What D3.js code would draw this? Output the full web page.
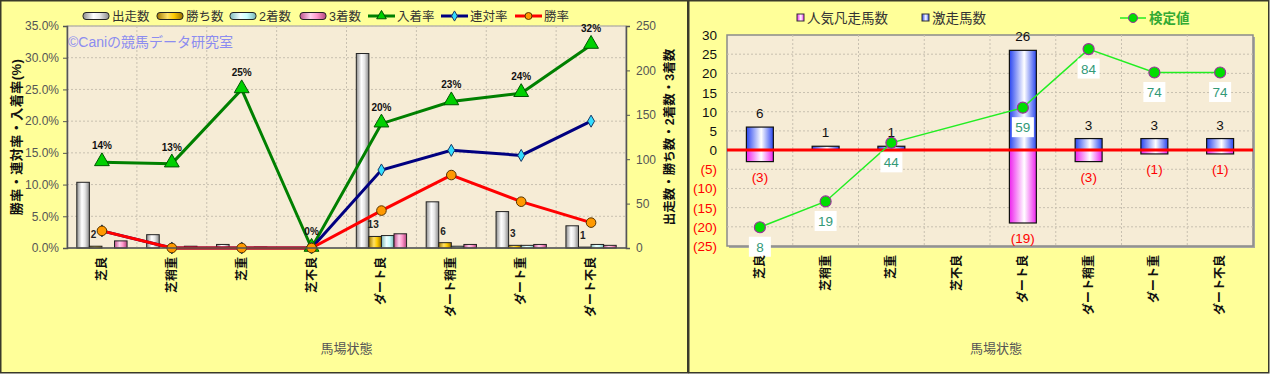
<!DOCTYPE html>
<html>
<head>
<meta charset="utf-8">
<script src="https://cdn.jsdelivr.net/npm/d3@7"></script>
<style>
  body { margin: 0; background: #ffffff; }
  svg { display: block; font-family: "Liberation Sans", "Noto Sans CJK JP", sans-serif; }
</style>
</head>
<body>
<svg id="chart" width="1270" height="374"></svg>
<script>
// Data =====================================================

var categories = ["芝良", "芝稍重", "芝重", "芝不良", "ダート良", "ダート稍重", "ダート重", "ダート不良"];

// left chart: counts (right axis)
var starts  = [74, 15, 4, 0, 219, 52, 41, 25];
var wins    = [2, 0, 0, 0, 13, 6, 3, 1];
var seconds = [0, 0, 0, 0, 14, 2, 3, 4];
var thirds  = [8, 2, 1, 0, 16, 4, 4, 3];

// left chart: rates in % (left axis)
var placeRate = [13.5, 13.3, 25.0, 0, 19.6, 23.1, 24.4, 32.0];
var quinRate  = [2.7, 0, 0, 0, 12.3, 15.4, 14.6, 20.0];
var winRate   = [2.7, 0, 0, 0, 5.9, 11.5, 7.3, 4.0];

var leftTicks  = [0, 5, 10, 15, 20, 25, 30, 35];
var rightTicks = [0, 50, 100, 150, 200, 250];

// right chart
var gekisou  = [6, 1, 1, 0, 26, 3, 3, 3];        // 激走馬数
var ninkiBon = [3, 0, 0, 0, 19, 3, 1, 1];        // 人気凡走馬数 (drawn downward)
var kentei   = [8, 19, 44, null, 59, 84, 74, 74]; // 検定値
var countTicks = [-25, -20, -15, -10, -5, 0, 5, 10, 15, 20, 25, 30];

// Setup ====================================================

var svg = d3.select("#chart");
var defs = svg.append("defs");

// keep the category index with each value so filtering doesn't shift it
function withIdx(arr) {
  return arr.map(function(v, i) { return {i: i, v: v}; });
}

function hGrad(id, stops) {
  var g = defs.append("linearGradient").attr("id", id)
    .attr("x1", "0%").attr("x2", "100%").attr("y1", "0%").attr("y2", "0%");
  stops.forEach(function(s) {
    g.append("stop").attr("offset", s[0]).attr("stop-color", s[1]);
  });
}
hGrad("gStart",  [["0%", "#8c8c8c"], ["40%", "#ffffff"], ["65%", "#e6e6e6"], ["100%", "#8a8a8a"]]);
hGrad("gWin",    [["0%", "#a07800"], ["40%", "#ffe066"], ["65%", "#ffcc00"], ["100%", "#996f00"]]);
hGrad("gSecond", [["0%", "#7fbcbc"], ["40%", "#f0ffff"], ["65%", "#ccffff"], ["100%", "#79b5b5"]]);
hGrad("gThird",  [["0%", "#c0508c"], ["40%", "#ffd0ec"], ["65%", "#ff99cc"], ["100%", "#b5457f"]]);
hGrad("gBlue",   [["0%", "#2a46f0"], ["55%", "#ffffff"], ["100%", "#2a46f0"]]);
hGrad("gPink",   [["0%", "#ee22ee"], ["55%", "#ffffff"], ["100%", "#ee22ee"]]);

var bgPanel = "#ffff99";
var bgPlot = "#f6ecd6";
var gridCol = "#c8c0b0";

// panels
svg.append("rect").attr("x", 0.75).attr("y", 0.75).attr("width", 687).attr("height", 372)
  .attr("fill", bgPanel).attr("stroke", "#3a3a2a").attr("stroke-width", 1.5);
svg.append("rect").attr("x", 688.75).attr("y", 0.75).attr("width", 1268.5 - 688.5).attr("height", 372)
  .attr("fill", bgPanel).attr("stroke", "#3a3a2a").attr("stroke-width", 1.5);

// Left chart ===============================================

var L = {left: 67, right: 626, top: 26, bottom: 248};
var barKeys = ["出走数", "勝ち数", "2着数", "3着数"];
var barData = [starts, wins, seconds, thirds];
var barFill = ["url(#gStart)", "url(#gWin)", "url(#gSecond)", "url(#gThird)"];

var xL = d3.scaleBand().domain(categories).range([L.left, L.right]);
var xLIn = d3.scaleBand().domain(barKeys).range([0, xL.bandwidth()]).paddingOuter(0.78);
var yRate = d3.scaleLinear().domain([0, 35]).range([L.bottom, L.top]);
var yCnt = d3.scaleLinear().domain([0, 250]).range([L.bottom, L.top]);
function cx(i) { return xL(categories[i]) + xL.bandwidth() / 2; }

var gl = svg.append("g");
gl.append("rect").attr("x", L.left).attr("y", L.top)
  .attr("width", L.right - L.left).attr("height", L.bottom - L.top)
  .attr("fill", bgPlot).attr("stroke", "#9a9a9a");

// grid
gl.selectAll(".hg").data(leftTicks.slice(1)).enter().append("line")
  .attr("x1", L.left).attr("x2", L.right)
  .attr("y1", function(d) { return yRate(d); }).attr("y2", function(d) { return yRate(d); })
  .attr("stroke", gridCol).attr("stroke-dasharray", "2,2");
gl.selectAll(".vg").data(categories.slice(1)).enter().append("line")
  .attr("x1", function(d) { return xL(d); }).attr("x2", function(d) { return xL(d); })
  .attr("y1", L.top).attr("y2", L.bottom)
  .attr("stroke", gridCol).attr("stroke-dasharray", "2,2");

// watermark
gl.append("text").attr("x", L.left + 1).attr("y", 47)
  .attr("fill", "#8c8cf0").attr("font-size", 14).text("©Caniの競馬データ研究室");

// bars
barData.forEach(function(arr, k) {
  gl.selectAll(".b" + k).data(withIdx(arr).filter(function(d) { return d.v > 0; }))
    .enter().append("rect")
    .attr("x", function(d) { return xL(categories[d.i]) + xLIn(barKeys[k]); })
    .attr("y", function(d) { return yCnt(d.v); })
    .attr("width", xLIn.bandwidth())
    .attr("height", function(d) { return L.bottom - yCnt(d.v); })
    .attr("fill", barFill[k])
    .attr("stroke", "#222")
    .attr("stroke-width", 1);
});

// win count labels
gl.selectAll(".wl").data(withIdx(wins).filter(function(d) { return d.v > 0; }))
  .enter().append("text")
  .attr("x", function(d) { return xL(categories[d.i]) + xLIn("勝ち数") + xLIn.bandwidth() / 2 - 2; })
  .attr("y", function(d) { return yCnt(d.v) - 8; })
  .attr("text-anchor", "middle").attr("font-size", 10).attr("font-weight", "bold")
  .attr("fill", "#222").text(function(d) { return d.v; });

// lines
var lineL = d3.line().x(function(d, i) { return cx(i); }).y(function(d) { return yRate(d); });

gl.append("path").datum(placeRate).attr("d", lineL)
  .attr("fill", "none").attr("stroke", "#008000").attr("stroke-width", 3);
gl.append("path").datum(quinRate).attr("d", lineL)
  .attr("fill", "none").attr("stroke", "#000080").attr("stroke-width", 3);
gl.append("path").datum(winRate).attr("d", lineL)
  .attr("fill", "none").attr("stroke", "#ff0000").attr("stroke-width", 3);

var tri = d3.symbol().type(d3.symbolTriangle).size(95);
var dia = d3.symbol().type(d3.symbolDiamond).size(42);

gl.selectAll(".pm").data(placeRate).enter().append("path")
  .attr("d", tri)
  .attr("transform", function(d, i) { return "translate(" + cx(i) + "," + (yRate(d) - 1) + ")"; })
  .attr("fill", "#00d000").attr("stroke", "#005500").attr("stroke-width", 1);
gl.selectAll(".qm").data(quinRate).enter().append("path")
  .attr("d", dia)
  .attr("transform", function(d, i) { return "translate(" + cx(i) + "," + yRate(d) + ")"; })
  .attr("fill", "#33ddff").attr("stroke", "#1a3a66").attr("stroke-width", 1);
gl.selectAll(".wm").data(winRate).enter().append("circle")
  .attr("cx", function(d, i) { return cx(i); })
  .attr("cy", function(d) { return yRate(d); })
  .attr("r", 4.8)
  .attr("fill", "#ff9900").attr("stroke", "#553300").attr("stroke-width", 1);

// place rate labels
gl.selectAll(".pl").data(placeRate).enter().append("text")
  .attr("x", function(d, i) { return cx(i); })
  .attr("y", function(d) { return yRate(d) - 13; })
  .attr("text-anchor", "middle").attr("font-size", 10).attr("font-weight", "bold")
  .attr("fill", "#111").text(function(d) { return Math.round(d) + "%"; });

// axes
var axL = gl.append("g").attr("transform", "translate(" + L.left + ",0)")
  .call(d3.axisLeft(yRate).tickValues(leftTicks).tickSize(4).tickPadding(4)
    .tickFormat(function(d) { return d.toFixed(1) + "%"; }));
var axR = gl.append("g").attr("transform", "translate(" + L.right + ",0)")
  .call(d3.axisRight(yCnt).tickValues(rightTicks).tickSize(4).tickPadding(6));
[axL, axR].forEach(function(a) {
  a.select(".domain").attr("stroke", "#555").attr("stroke-width", 1.5);
  a.selectAll(".tick line").attr("stroke", "#555");
  a.selectAll("text").attr("font-size", 12).attr("fill", "#555");
});
gl.append("line").attr("x1", L.left).attr("x2", L.right).attr("y1", L.bottom).attr("y2", L.bottom)
  .attr("stroke", "#555").attr("stroke-width", 1.5);

// category labels
gl.selectAll(".xl").data(categories).enter().append("text")
  .attr("transform", function(d, i) { return "translate(" + (cx(i) + 4) + "," + (L.bottom + 9) + ") rotate(-90)"; })
  .attr("text-anchor", "end").attr("font-size", 12).attr("font-weight", "bold")
  .attr("fill", "#111").text(function(d) { return d; });

// axis titles
gl.append("text").attr("transform", "translate(21,137) rotate(-90)")
  .attr("text-anchor", "middle").attr("font-size", 13).attr("font-weight", "bold")
  .attr("letter-spacing", 0.5)
  .attr("fill", "#111").text("勝率・連対率・入着率(%)");
gl.append("text").attr("transform", "translate(674,137) rotate(-90)")
  .attr("text-anchor", "middle").attr("font-size", 12.5).attr("font-weight", "bold")
  .attr("fill", "#111").text("出走数・勝ち数・2着数・3着数");
gl.append("text").attr("x", (L.left + L.right) / 2).attr("y", 353)
  .attr("text-anchor", "middle").attr("font-size", 13).attr("fill", "#555").text("馬場状態");

// legend
var legL = gl.append("g").attr("font-size", 12.5).attr("fill", "#333");
var legItems = [
  {name: "出走数", x: 83, type: "bar", fill: "url(#gStart)"},
  {name: "勝ち数", x: 157, type: "bar", fill: "url(#gWin)"},
  {name: "2着数", x: 230, type: "bar", fill: "url(#gSecond)"},
  {name: "3着数", x: 300, type: "bar", fill: "url(#gThird)"},
  {name: "入着率", x: 368, type: "tri", col: "#008000"},
  {name: "連対率", x: 441, type: "dia", col: "#000080"},
  {name: "勝率", x: 515, type: "dot", col: "#ff0000"}
];
legItems.forEach(function(it) {
  var g = legL.append("g").attr("transform", "translate(" + it.x + ",16)");
  if (it.type == "bar") {
    g.append("rect").attr("x", 0).attr("y", -3.5).attr("width", 26).attr("height", 7)
      .attr("rx", 3).attr("fill", it.fill).attr("stroke", "#222");
  } else {
    g.append("line").attr("x1", 0).attr("x2", 27).attr("stroke", it.col).attr("stroke-width", 3);
    if (it.type == "tri")
      g.append("path").attr("d", d3.symbol().type(d3.symbolTriangle).size(40))
        .attr("transform", "translate(13.5,0)").attr("fill", "#00d000").attr("stroke", "#005500");
    else if (it.type == "dia")
      g.append("path").attr("d", d3.symbol().type(d3.symbolDiamond).size(30))
        .attr("transform", "translate(13.5,0)").attr("fill", "#33ddff").attr("stroke", "#1a3a66");
    else
      g.append("circle").attr("cx", 13.5).attr("r", 3.5).attr("fill", "#ff9900").attr("stroke", "#553300");
  }
  g.append("text").attr("x", 29).attr("y", 4.5).text(it.name);
});

// Right chart ==============================================

var R = {left: 727, right: 1253, top: 35, bottom: 246};
var xR = d3.scaleBand().domain(categories).range([R.left, R.right]);
var yC = d3.scaleLinear().domain([-25, 30]).range([R.bottom, R.top]);
var yK = d3.scaleLinear().domain([0, 90]).range([R.bottom, R.top]);
var bw = xR.bandwidth() * 0.41;
function rx(i) { return xR(categories[i]) + xR.bandwidth() / 2; }

var gr = svg.append("g");
gr.append("rect").attr("x", R.left + 2).attr("y", R.top + 2)
  .attr("width", R.right - R.left).attr("height", R.bottom - R.top).attr("fill", "#a8a8a0");
gr.append("rect").attr("x", R.left).attr("y", R.top)
  .attr("width", R.right - R.left).attr("height", R.bottom - R.top)
  .attr("fill", bgPlot).attr("stroke", "#8a8a8a").attr("stroke-width", 1.5);

gr.selectAll(".hg").data(countTicks.slice(1, -1)).enter().append("line")
  .attr("x1", R.left).attr("x2", R.right)
  .attr("y1", function(d) { return yC(d); }).attr("y2", function(d) { return yC(d); })
  .attr("stroke", gridCol).attr("stroke-dasharray", "2,2");
gr.selectAll(".vg").data(categories.slice(1)).enter().append("line")
  .attr("x1", function(d) { return xR(d); }).attr("x2", function(d) { return xR(d); })
  .attr("y1", R.top).attr("y2", R.bottom)
  .attr("stroke", gridCol).attr("stroke-dasharray", "2,2");

// y labels
gr.selectAll(".yl").data(countTicks).enter().append("text")
  .attr("x", 717).attr("y", function(d) { return yC(d) + 5; })
  .attr("text-anchor", "end").attr("font-size", 13.5)
  .attr("fill", function(d) { return d < 0 ? "#ff0000" : "#111"; })
  .text(function(d) { return d < 0 ? "(" + (-d) + ")" : d; });

// bars
var blueData = withIdx(gekisou).filter(function(d) { return d.v > 0; });
var pinkData = withIdx(ninkiBon).filter(function(d) { return d.v > 0; });

gr.selectAll(".bb").data(blueData).enter().append("rect")
  .attr("x", function(d) { return rx(d.i) - bw / 2; })
  .attr("y", function(d) { return yC(d.v); })
  .attr("width", bw).attr("height", function(d) { return yC(0) - yC(d.v); })
  .attr("fill", "url(#gBlue)").attr("stroke", "#111").attr("stroke-width", 1.2);
gr.selectAll(".pb").data(pinkData).enter().append("rect")
  .attr("x", function(d) { return rx(d.i) - bw / 2; })
  .attr("y", yC(0))
  .attr("width", bw).attr("height", function(d) { return yC(-d.v) - yC(0); })
  .attr("fill", "url(#gPink)").attr("stroke", "#111").attr("stroke-width", 1.2);

gr.selectAll(".bl").data(blueData).enter().append("text")
  .attr("x", function(d) { return rx(d.i); })
  .attr("y", function(d) { return yC(d.v) - 9; })
  .attr("text-anchor", "middle").attr("font-size", 13.5).attr("fill", "#111")
  .text(function(d) { return d.v; });
gr.selectAll(".nl").data(pinkData).enter().append("text")
  .attr("x", function(d) { return rx(d.i); })
  .attr("y", function(d) { return yC(-d.v) + 20; })
  .attr("text-anchor", "middle").attr("font-size", 13.5).attr("fill", "#ff0000")
  .text(function(d) { return "(" + d.v + ")"; });

// zero line
gr.append("line").attr("x1", R.left).attr("x2", R.right).attr("y1", yC(0)).attr("y2", yC(0))
  .attr("stroke", "#ff0000").attr("stroke-width", 3);

// 検定値 line (skip missing)
var kPts = withIdx(kentei).filter(function(d) { return d.v != null; });
gr.append("path").datum(kPts)
  .attr("d", d3.line().x(function(d) { return rx(d.i); }).y(function(d) { return yK(d.v); }))
  .attr("fill", "none").attr("stroke", "#22ee22").attr("stroke-width", 1.5);
gr.selectAll(".km").data(kPts).enter().append("circle")
  .attr("cx", function(d) { return rx(d.i); }).attr("cy", function(d) { return yK(d.v); })
  .attr("r", 5.5).attr("fill", "#00dd00").attr("stroke", "#993399").attr("stroke-width", 1.2);
var kl = gr.selectAll(".kl").data(kPts).enter().append("g")
  .attr("transform", function(d) { return "translate(" + rx(d.i) + "," + (yK(d.v) + 19.5) + ")"; });
kl.append("rect").attr("x", -11).attr("y", -10).attr("width", 22).attr("height", 20).attr("fill", "#ffffff");
kl.append("text").attr("y", 5).attr("text-anchor", "middle").attr("font-size", 13.5)
  .attr("fill", "#339977").text(function(d) { return d.v; });

// category labels
gr.selectAll(".xl").data(categories).enter().append("text")
  .attr("transform", function(d, i) { return "translate(" + (rx(i) + 4) + "," + (R.bottom + 9) + ") rotate(-90)"; })
  .attr("text-anchor", "end").attr("font-size", 12).attr("font-weight", "bold")
  .attr("fill", "#111").text(function(d) { return d; });

gr.append("text").attr("x", 996).attr("y", 353)
  .attr("text-anchor", "middle").attr("font-size", 13).attr("fill", "#555").text("馬場状態");

// legend
var legR = gr.append("g").attr("font-size", 13.5).attr("fill", "#333");
legR.append("rect").attr("x", 797).attr("y", 14).attr("width", 7).attr("height", 7)
  .attr("fill", "url(#gPink)").attr("stroke", "#333");
legR.append("text").attr("x", 807).attr("y", 23).text("人気凡走馬数");
legR.append("rect").attr("x", 922).attr("y", 14).attr("width", 7).attr("height", 7)
  .attr("fill", "url(#gBlue)").attr("stroke", "#333");
legR.append("text").attr("x", 932).attr("y", 23).text("激走馬数");
legR.append("line").attr("x1", 1120).attr("x2", 1146).attr("y1", 18).attr("y2", 18)
  .attr("stroke", "#22ee22").attr("stroke-width", 1.5);
legR.append("circle").attr("cx", 1133).attr("cy", 18).attr("r", 4.5)
  .attr("fill", "#00dd00").attr("stroke", "#993399");
legR.append("text").attr("x", 1149).attr("y", 23).attr("fill", "#33aa33").attr("font-weight", "bold").text("検定値");
</script>
</body>
</html>
